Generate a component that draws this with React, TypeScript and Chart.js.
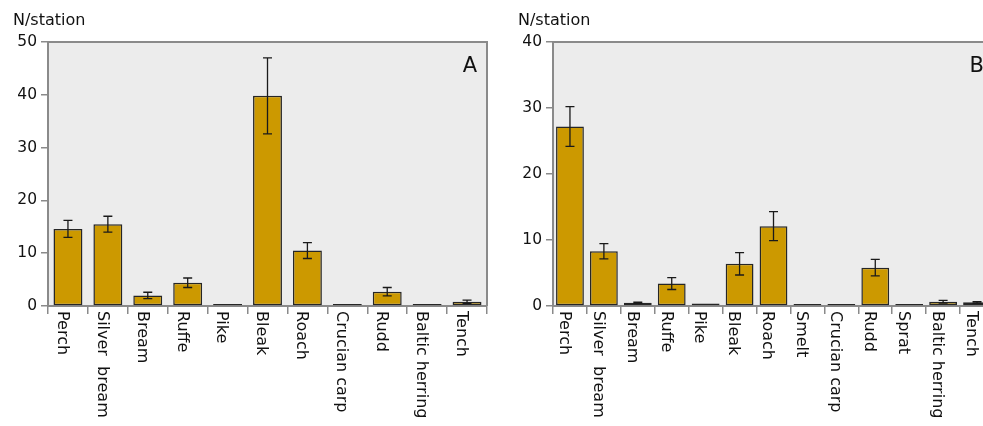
import React, { useEffect, useRef } from 'react';
import { Chart, registerables } from 'chart.js';

Chart.register(...registerables);

// ---------- data ----------
const categoriesA = ['Perch', 'Silver  bream', 'Bream', 'Ruffe', 'Pike', 'Bleak', 'Roach', 'Crucian carp', 'Rudd', 'Baltic herring', 'Tench'];
const valuesA = [14.6, 15.5, 2.0, 4.4, 0.4, 39.8, 10.5, 0.12, 2.7, 0.28, 0.8];
const errorsA = [1.6, 1.5, 0.6, 0.9, 0, 7.2, 1.5, 0, 0.8, 0, 0.3];
const yMaxA = 50;

const categoriesB = ['Perch', 'Silver  bream', 'Bream', 'Ruffe', 'Pike', 'Bleak', 'Roach', 'Smelt', 'Crucian carp', 'Rudd', 'Sprat', 'Baltic herring', 'Tench'];
const valuesB = [27.2, 8.3, 0.5, 3.4, 0.38, 6.4, 12.1, 0.12, 0.12, 5.8, 0.22, 0.65, 0.55];
const errorsB = [3.0, 1.15, 0.1, 0.9, 0, 1.7, 2.2, 0, 0, 1.25, 0, 0.2, 0.1];
const yMaxB = 40;

const yStep = 10;
const yTitle = 'N/station';

const FONT = '"DejaVu Sans", "Liberation Sans", sans-serif';

type PanelProps = {
  categories: string[];
  values: number[];
  errors: number[];
  yMax: number;
  letter: string;
  left: number;
  width: number;
  axisWidth: number;
  padRight: number;
  barPct: number;
};

function makeDecor(categories: string[], errors: number[], letter: string) {
  return {
    id: 'decor' + letter,
    beforeDraw(chart: any) {
      const { ctx, chartArea: a } = chart;
      ctx.save();
      ctx.fillStyle = '#ECECEC';
      ctx.fillRect(a.left, a.top, a.right - a.left, a.bottom - a.top);
      ctx.restore();
    },
    afterDraw(chart: any) {
      const { ctx, chartArea: a } = chart;
      const xs = chart.scales.x;
      const ys = chart.scales.y;
      const meta = chart.getDatasetMeta(0);
      const data = chart.data.datasets[0].data as number[];
      ctx.save();
      // error bars
      ctx.strokeStyle = '#1a1a1a';
      ctx.lineWidth = 1.3;
      meta.data.forEach((bar: any, i: number) => {
        const e = errors[i];
        if (!e) return;
        const v = data[i];
        const cx = bar.x;
        const yt = ys.getPixelForValue(v + e);
        const yb = ys.getPixelForValue(v - e);
        ctx.beginPath();
        ctx.moveTo(cx, yt);
        ctx.lineTo(cx, yb);
        ctx.moveTo(cx - 4.5, yt);
        ctx.lineTo(cx + 4.5, yt);
        ctx.moveTo(cx - 4.5, yb);
        ctx.lineTo(cx + 4.5, yb);
        ctx.stroke();
      });
      // frame top / right
      ctx.strokeStyle = '#8a8a8a';
      ctx.lineWidth = 2;
      ctx.beginPath();
      ctx.moveTo(a.left, a.top);
      ctx.lineTo(a.right, a.top);
      ctx.lineTo(a.right, a.bottom);
      ctx.stroke();
      // category labels (rotated clockwise)
      ctx.fillStyle = '#111';
      ctx.font = '16px ' + FONT;
      categories.forEach((c, i) => {
        const px = xs.getPixelForValue(i) - 6;
        ctx.save();
        ctx.translate(px, a.bottom + 5);
        ctx.rotate(Math.PI / 2);
        ctx.textAlign = 'left';
        ctx.textBaseline = 'middle';
        ctx.fillText(c, 0, 0);
        ctx.restore();
      });
      // y title
      ctx.textAlign = 'left';
      ctx.textBaseline = 'alphabetic';
      ctx.font = '16px ' + FONT;
      ctx.fillText(yTitle, a.left - 35, 25);
      // panel letter
      ctx.font = '21px ' + FONT;
      ctx.textAlign = 'right';
      ctx.fillText(letter, a.right - 10, 72);
      ctx.restore();
    },
  };
}

function Panel(p: PanelProps) {
  const ref = useRef<HTMLCanvasElement | null>(null);
  useEffect(() => {
    if (!ref.current) return;
    const chart = new Chart(ref.current, {
      type: 'bar',
      data: {
        labels: p.categories,
        datasets: [
          {
            data: p.values,
            backgroundColor: '#CC9900',
            borderColor: '#262626',
            borderWidth: 1.5,
            borderSkipped: false,
            minBarLength: 2,
            barPercentage: p.barPct,
            categoryPercentage: 1,
          },
        ],
      },
      options: {
        responsive: false,
        animation: false,
        devicePixelRatio: 1,
        layout: { padding: { left: 0, top: 42, right: p.padRight, bottom: 0 } },
        plugins: { legend: { display: false }, tooltip: { enabled: false } },
        scales: {
          x: {
            type: 'category',
            grid: {
              offset: true,
              drawOnChartArea: false,
              drawTicks: true,
              tickLength: 8,
              color: '#8a8a8a',
              lineWidth: 1.5,
            },
            border: { display: true, color: '#8a8a8a', width: 2 },
            ticks: { display: false },
            afterFit: (s: any) => {
              s.height = 120;
            },
          },
          y: {
            min: 0,
            max: p.yMax,
            grid: {
              drawOnChartArea: false,
              drawTicks: true,
              tickLength: 7,
              color: '#8a8a8a',
              lineWidth: 1.5,
            },
            border: { display: true, color: '#8a8a8a', width: 2 },
            ticks: {
              stepSize: yStep,
              padding: 4,
              color: '#111',
              font: { family: FONT, size: 15.5 },
            },
            afterFit: (s: any) => {
              s.width = p.axisWidth;
            },
          },
        },
      },
      plugins: [makeDecor(p.categories, p.errors, p.letter)],
    } as any);
    return () => chart.destroy();
  }, []);
  return (
    <canvas
      ref={ref}
      width={p.width}
      height={426}
      style={{ position: 'absolute', left: p.left, top: 0, width: p.width, height: 426 }}
    />
  );
}

export default function App() {
  return (
    <div
      style={{
        position: 'fixed',
        left: 0,
        top: 0,
        width: 983,
        height: 426,
        overflow: 'hidden',
        background: '#fff',
      }}
    >
      <Panel
        categories={categoriesA}
        values={valuesA}
        errors={errorsA}
        yMax={yMaxA}
        letter="A"
        left={0}
        width={495}
        axisWidth={48}
        padRight={8}
        barPct={0.725}
      />
      <Panel
        categories={categoriesB}
        values={valuesB}
        errors={errorsB}
        yMax={yMaxB}
        letter="B"
        left={490}
        width={510}
        axisWidth={63}
        padRight={6}
        barPct={0.82}
      />
    </div>
  );
}
